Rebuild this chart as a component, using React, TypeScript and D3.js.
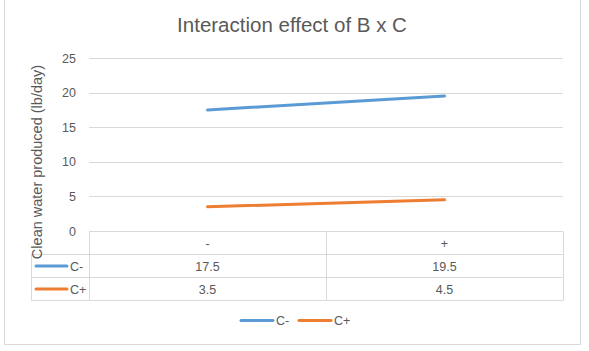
import React, { useRef, useEffect } from "react";
import * as d3 from "d3";

const categories = ["-", "+"];
const seriesNames = ["C-", "C+"];
const cMinus = [17.5, 19.5];
const cPlus = [3.5, 4.5];
const yTicks = [0, 5, 10, 15, 20, 25];
const colors = ["#5B9BD5", "#ED7D31"];

const App = () => {
  const svgRef = useRef<SVGSVGElement>(null);

  useEffect(() => {
    const width = 589, height = 351;
    const font = "'Liberation Sans', Arial, sans-serif";
    const textColor = "#595959";
    const gridColor = "#D9D9D9";
    const plot = { left: 89, right: 563, top: 58, bottom: 231 };
    const rowH = 23;
    const tableLeft = 31;

    const svg = d3.select(svgRef.current)
      .attr("width", width)
      .attr("height", height);
    svg.selectAll("*").remove();

    svg.append("rect")
      .attr("width", width).attr("height", height)
      .attr("fill", "#fff");

    // chart area border (top edge is cut off)
    svg.append("path")
      .attr("d", `M4.5,-1 V344.5 H580.5 V-1`)
      .attr("fill", "none")
      .attr("stroke", gridColor);

    svg.append("text")
      .attr("x", 292).attr("y", 32)
      .attr("text-anchor", "middle")
      .style("font-family", font)
      .style("font-size", "20.5px")
      .attr("fill", textColor)
      .text("Interaction effect of B x C");

    const x = d3.scaleBand()
      .domain(categories)
      .range([plot.left, plot.right]);

    const y = d3.scaleLinear()
      .domain([0, 25])
      .range([plot.bottom, plot.top]);

    // gridlines
    svg.append("g")
      .selectAll("line")
      .data(yTicks.filter(t => t > 0))
      .enter()
      .append("line")
      .attr("x1", plot.left).attr("x2", plot.right)
      .attr("y1", d => Math.round(y(d)) + 0.5)
      .attr("y2", d => Math.round(y(d)) + 0.5)
      .attr("stroke", gridColor);

    svg.append("g")
      .selectAll("text")
      .data(yTicks)
      .enter()
      .append("text")
      .attr("x", 76)
      .attr("y", d => y(d) + 4.5)
      .attr("text-anchor", "end")
      .style("font-family", font)
      .style("font-size", "12.5px")
      .attr("fill", textColor)
      .text(d => d);

    // data table
    const tableG = svg.append("g").attr("stroke", gridColor).attr("fill", "none");
    const t0 = Math.round(plot.bottom) + 0.5;
    tableG.append("line")
      .attr("x1", plot.left).attr("x2", plot.right)
      .attr("y1", t0).attr("y2", t0);
    [1, 2, 3].forEach(i => {
      tableG.append("line")
        .attr("x1", tableLeft + 0.5).attr("x2", plot.right)
        .attr("y1", t0 + rowH * i).attr("y2", t0 + rowH * i);
    });
    tableG.append("line")
      .attr("x1", tableLeft + 0.5).attr("x2", tableLeft + 0.5)
      .attr("y1", t0 + rowH).attr("y2", t0 + rowH * 3);
    [plot.left, (x("+") as number), plot.right].forEach(xv => {
      tableG.append("line")
        .attr("x1", Math.round(xv) + 0.5).attr("x2", Math.round(xv) + 0.5)
        .attr("y1", t0).attr("y2", t0 + rowH * 3);
    });

    svg.append("g")
      .selectAll("text")
      .data(categories)
      .enter()
      .append("text")
      .attr("x", d => (x(d) as number) + x.bandwidth() / 2)
      .attr("y", t0 + 16)
      .attr("text-anchor", "middle")
      .style("font-family", font)
      .style("font-size", "12.5px")
      .attr("fill", textColor)
      .text(d => d);

    const series = [cMinus, cPlus];
    series.forEach((vals, si) => {
      const rowY = t0 + rowH * (si + 1);
      svg.append("g")
        .selectAll("text")
        .data(vals)
        .enter()
        .append("text")
        .attr("x", (d, i) => (x(categories[i]) as number) + x.bandwidth() / 2)
        .attr("y", rowY + 16)
        .attr("text-anchor", "middle")
        .style("font-family", font)
        .style("font-size", "12.5px")
        .attr("fill", textColor)
        .text(d => d);

      svg.append("line")
        .attr("x1", 36).attr("x2", 67)
        .attr("y1", rowY + 11.5).attr("y2", rowY + 11.5)
        .attr("stroke", colors[si])
        .attr("stroke-width", 3)
        .attr("stroke-linecap", "round");
      svg.append("text")
        .attr("x", 70).attr("y", rowY + 16)
        .style("font-family", font)
        .style("font-size", "12.5px")
        .attr("fill", textColor)
        .text(seriesNames[si]);
    });

    // lines
    const line = d3.line<number>()
      .x((d, i) => (x(categories[i]) as number) + x.bandwidth() / 2)
      .y(d => y(d));

    series.forEach((vals, si) => {
      svg.append("path")
        .datum(vals)
        .attr("d", line)
        .attr("fill", "none")
        .attr("stroke", colors[si])
        .attr("stroke-width", 3)
        .attr("stroke-linecap", "round");
    });

    // Y-axis label
    svg.append("text")
      .attr("transform", "rotate(-90)")
      .attr("x", -162)
      .attr("y", 41.5)
      .attr("text-anchor", "middle")
      .style("font-family", font)
      .style("font-size", "14.5px")
      .attr("fill", textColor)
      .text("Clean water produced (lb/day)");

    // bottom legend
    const legendX = [241, 299];
    seriesNames.forEach((name, i) => {
      svg.append("line")
        .attr("x1", legendX[i]).attr("x2", legendX[i] + 32)
        .attr("y1", 320.5).attr("y2", 320.5)
        .attr("stroke", colors[i])
        .attr("stroke-width", 3)
        .attr("stroke-linecap", "round");
      svg.append("text")
        .attr("x", legendX[i] + 35).attr("y", 325)
        .style("font-family", font)
        .style("font-size", "12.5px")
        .attr("fill", textColor)
        .text(name);
    });
  }, []);

  return (
    <div style={{ position: "absolute", left: 0, top: 0 }}>
      <svg ref={svgRef}></svg>
    </div>
  );
};

export default App;
